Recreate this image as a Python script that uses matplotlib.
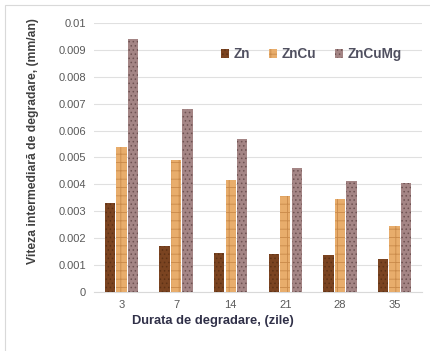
import numpy as np
import matplotlib.pyplot as plt
from matplotlib.patches import Rectangle

plt.rcParams['font.family'] = ['Liberation Sans', 'DejaVu Sans']
plt.rcParams['hatch.linewidth'] = 0.6

zile = ['3', '7', '14', '21', '28', '35']
zn = [0.0033, 0.0017, 0.00143, 0.0014, 0.00136, 0.0012]
zncu = [0.0054, 0.0049, 0.00417, 0.00355, 0.00346, 0.00243]
zncumg = [0.0094, 0.0068, 0.0057, 0.0046, 0.00413, 0.00404]

fig = plt.figure(figsize=(4.3, 3.51), dpi=100)
# chenarul diagramei (iese din imagine in dreapta si jos)
fig.patches.append(Rectangle((0.012, -0.1), 1.1, 1.086, transform=fig.transFigure,
                             fill=False, edgecolor='#d9d9d9', linewidth=0.8))
ax = fig.add_axes([0.219, 0.169, 0.762, 0.765])

x = np.arange(len(zile))
w = 0.19
ax.bar(x - 0.21, zn, w, color='#7b4421', edgecolor='#5e3216', hatch='....', linewidth=0, label='Zn', zorder=3)
ax.bar(x, zncu, w, color='#e8ad6c', edgecolor='#c98a4a', hatch='++', linewidth=0, label='ZnCu', zorder=3)
ax.bar(x + 0.21, zncumg, w, color='#a48585', edgecolor='#6e5252', hatch='....', linewidth=0, label='ZnCuMg', zorder=3)

ax.set_xlim(-0.5, len(zile) - 0.5)
ax.set_ylim(0, 0.01)
ax.set_yticks(np.arange(0, 0.0101, 0.001))
ax.set_yticklabels(['0'] + ['%g' % v for v in np.arange(0.001, 0.0101, 0.001)])
ax.set_xticks(x)
ax.set_xticklabels(zile)
ax.yaxis.grid(True, color='#e0e0e0', linewidth=0.8, zorder=0)
ax.tick_params(length=0, labelsize=8, labelcolor='#595959', pad=6)
for s in ['top', 'right', 'left']:
    ax.spines[s].set_visible(False)
ax.spines['bottom'].set_color('#d9d9d9')

ax.set_xlabel('Durata de degradare, (zile)', fontsize=9.3, fontweight='bold', color='#303048')
ax.xaxis.set_label_coords(0.363, -0.085)
ax.set_ylabel('Viteza intermediară de degradare, (mm/an)', fontsize=8.7, fontweight='bold',
              color='#404040')
ax.yaxis.set_label_coords(-0.168, 0.56)

ax.legend(loc='upper right', bbox_to_anchor=(0.975, 0.955), ncol=3, frameon=False,
          handlelength=0.6, handleheight=0.6, handletextpad=0.3, columnspacing=1.4,
          labelcolor='#505060', prop={'weight': 'bold', 'size': 9.8})

fig.savefig('out.png', dpi=100)
